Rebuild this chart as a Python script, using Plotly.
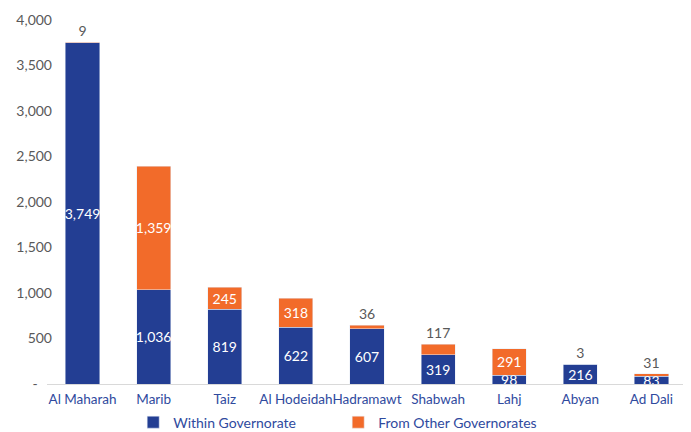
import plotly.graph_objects as go

governorates = ["Al Maharah", "Marib", "Taiz", "Al Hodeidah", "Hadramawt",
                "Shabwah", "Lahj", "Abyan", "Ad Dali"]
within = [3749, 1036, 819, 622, 607, 319, 98, 216, 83]
other = [9, 1359, 245, 318, 36, 117, 291, 3, 31]

y_ticks = [0, 500, 1000, 1500, 2000, 2500, 3000, 3500, 4000]

BLUE = "#233e93"
ORANGE = "#f26b2a"
FONT = "Lato, Noto Sans, sans-serif"

# small orange segments get their label above the stack
other_pos = ["outside" if v < 200 else "inside" for v in other]

fig = go.Figure()
fig.add_trace(
    go.Bar(
        x=governorates,
        y=within,
        name="Within Governorate",
        marker_color=BLUE,
        text=[f"{v:,}" for v in within],
        textposition="inside",
        textangle=0,
        insidetextanchor="middle",
        constraintext="none",
        insidetextfont=dict(color="white", size=14, family=FONT),
        cliponaxis=False,
        hoverinfo="x+y+name",
    )
)
fig.add_trace(
    go.Bar(
        x=governorates,
        y=other,
        name="From Other Governorates",
        marker_color=ORANGE,
        text=[f"{v:,}" for v in other],
        textposition=other_pos,
        textangle=0,
        insidetextanchor="middle",
        constraintext="none",
        insidetextfont=dict(color="white", size=14, family=FONT),
        outsidetextfont=dict(color="#595959", size=14, family=FONT),
        cliponaxis=False,
        hoverinfo="x+y+name",
    )
)

# accounting-style zero: a dash padded away from the axis
zero_label = "-\u00a0\u00a0\u00a0\u00a0"

# page body keeps an 8px margin, so the figure is sized to the space left
fig.update_layout(
    barmode="stack",
    bargap=0.52,
    width=683,
    height=424,
    plot_bgcolor="white",
    paper_bgcolor="white",
    font=dict(family=FONT, size=13, color="#595959"),
    margin={"l": 39, "r": 4, "t": 12, "b": 48, "autoexpand": False},
    showlegend=True,
    legend=dict(
        orientation="h",
        x=0.455,
        xanchor="center",
        yref="container",
        y=0.06,
        yanchor="top",
        traceorder="normal",
        bgcolor="rgba(0,0,0,0)",
        font=dict(color="#2f4a9e", size=14, family=FONT),
        itemwidth=30,
        entrywidth=160,
    ),
    xaxis=dict(
        showline=True,
        linecolor="#d9d9d9",
        linewidth=1,
        ticks="",
        tickangle=0,
        ticklabelstandoff=3,
        automargin=False,
        tickfont=dict(color="#2f4a9e", size=13.5, family=FONT),
    ),
    yaxis=dict(
        range=[0, 4000],
        tickvals=y_ticks,
        ticktext=[zero_label if v == 0 else f"{v:,}" for v in y_ticks],
        showgrid=False,
        zeroline=False,
        showline=False,
        ticks="",
        ticklabelstandoff=-6,
        automargin=False,
        tickfont=dict(color="#595959", size=14, family=FONT),
    ),
)

fig.write_html("out.html")
